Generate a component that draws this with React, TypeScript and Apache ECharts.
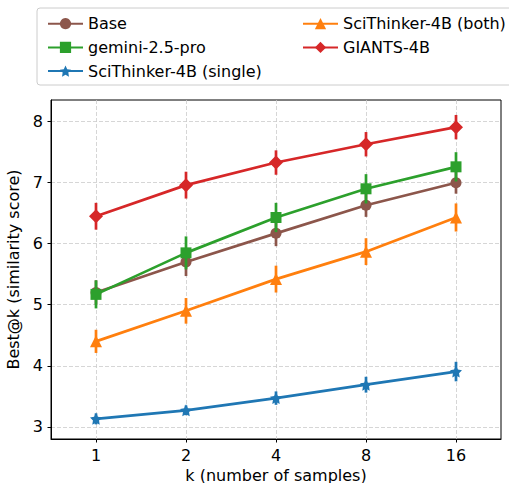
import React, { useEffect, useRef } from "react";
import * as echarts from "echarts";

const kLabels = ["1", "2", "4", "8", "16"];
const yTicks = [3, 4, 5, 6, 7, 8];

const baseVals = [5.2, 5.7, 6.17, 6.63, 7.0];
const baseErr = [0.2, 0.23, 0.21, 0.19, 0.18];
const geminiVals = [5.17, 5.85, 6.43, 6.9, 7.26];
const geminiErr = [0.23, 0.27, 0.24, 0.24, 0.24];
const singleVals = [3.13, 3.27, 3.47, 3.69, 3.905];
const singleErr = [0.09, 0.08, 0.11, 0.13, 0.16];
const bothVals = [4.4, 4.9, 5.42, 5.87, 6.43];
const bothErr = [0.19, 0.21, 0.22, 0.22, 0.23];
const giantsVals = [6.45, 6.96, 7.33, 7.63, 7.91];
const giantsErr = [0.22, 0.22, 0.2, 0.2, 0.2];

const STAR =
  "path://M0,-10 L2.9,-4 9.5,-3.1 4.8,1.5 5.9,8.1 0,5 -5.9,8.1 -4.8,1.5 -9.5,-3.1 -2.9,-4Z";

const models = [
  { name: "Base", vals: baseVals, err: baseErr, color: "#8c564b", symbol: "circle", size: 11 },
  { name: "gemini-2.5-pro", vals: geminiVals, err: geminiErr, color: "#2ca02c", symbol: "rect", size: 11 },
  { name: "SciThinker-4B (single)", vals: singleVals, err: singleErr, color: "#1f77b4", symbol: STAR, size: 12 },
  { name: "SciThinker-4B (both)", vals: bothVals, err: bothErr, color: "#ff7f0e", symbol: "triangle", size: 12 },
  { name: "GIANTS-4B", vals: giantsVals, err: giantsErr, color: "#d62728", symbol: "diamond", size: 14 },
];

const FONT = "DejaVu Sans";
const FS = 16;

export default function App() {
  const ref = useRef<HTMLDivElement>(null);
  useEffect(() => {
    document.body.style.margin = "0";
    document.documentElement.style.overflow = "hidden";
    const chart = echarts.init(ref.current!, null, { renderer: "svg" });
    const series: any[] = [];
    models.forEach((m, mi) => {
      series.push({
        type: "custom",
        name: m.name + "-err",
        data: m.vals.map((v, i) => [i, v - m.err[i], v + m.err[i]]),
        z: 2 + mi * 2,
        silent: true,
        renderItem: (params: any, api: any) => {
          const p1 = api.coord([api.value(0), api.value(1)]);
          const p2 = api.coord([api.value(0), api.value(2)]);
          return {
            type: "line",
            shape: { x1: p1[0], y1: p1[1], x2: p2[0], y2: p2[1] },
            style: { stroke: m.color, lineWidth: 2.7 },
          };
        },
      });
      series.push({
        type: "line",
        name: m.name,
        data: m.vals.map((v, i) => [i, v]),
        z: 3 + mi * 2,
        symbol: m.symbol,
        symbolSize: m.size,
        showAllSymbol: true,
        lineStyle: { color: m.color, width: 2.7 },
        itemStyle: { color: m.color, borderWidth: 0 },
        color: m.color,
      });
    });

    const legendCommon = {
      orient: "vertical",
      itemWidth: 35,
      itemHeight: 14,
      itemGap: 5.7,
      textStyle: {
        fontFamily: FONT,
        fontSize: FS,
        color: "#000",
        lineHeight: 18,
      },
      selectedMode: false,
    };

    chart.setOption({
      animation: false,
      backgroundColor: "#fff",
      textStyle: { fontFamily: FONT },
      grid: {
        left: 51,
        top: 100,
        width: 450,
        height: 339,
        outerBoundsMode: "none",
        containLabel: false,
        show: true,
        borderColor: "#000",
        borderWidth: 1,
        backgroundColor: "transparent",
      },
      legend: [
        { ...legendCommon, left: 42, top: 9.7, data: models.slice(0, 3).map((m) => m.name) },
        { ...legendCommon, left: 297, top: 9.7, data: models.slice(3).map((m) => m.name) },
      ],
      graphic: [
        {
          type: "rect",
          shape: { x: 37, y: 8, width: 490, height: 77, r: 3 },
          style: { fill: "rgba(255,255,255,0.8)", stroke: "#cccccc", lineWidth: 1 },
          z: -1,
        },
      ],
      xAxis: {
        type: "value",
        min: -0.5,
        max: 4.5,
        name: "k (number of samples)",
        nameLocation: "middle",
        nameGap: 24,
        nameTextStyle: { fontFamily: FONT, fontSize: FS, color: "#000", lineHeight: 16 },
        axisLine: { show: true, onZero: false, lineStyle: { color: "#000", width: 1 } },
        axisTick: { show: true, inside: false, length: 3.5, lineStyle: { color: "#000" }, customValues: [0, 1, 2, 3, 4] },
        axisLabel: {
          customValues: [0, 1, 2, 3, 4],
          formatter: (v: number) => kLabels[Math.round(v)] ?? "",
          fontFamily: FONT,
          fontSize: FS,
          color: "#000",
          margin: 8,
        },
        splitLine: { show: true, lineStyle: { color: "#cccccc", type: [4, 2], width: 0.8 } },
      },
      yAxis: {
        type: "value",
        min: 2.8,
        max: 8.355,
        name: "Best@k (similarity score)",
        nameLocation: "middle",
        nameGap: 16,
        nameRotate: 90,
        nameTextStyle: { fontFamily: FONT, fontSize: FS, color: "#000" },
        axisLine: { show: true, onZero: false, lineStyle: { color: "#000", width: 1 } },
        axisTick: { show: true, inside: false, length: 3.5, lineStyle: { color: "#000" }, customValues: yTicks },
        axisLabel: {
          customValues: yTicks,
          fontFamily: FONT,
          fontSize: FS,
          color: "#000",
          margin: 8,
        },
        splitLine: { show: true, lineStyle: { color: "#cccccc", type: [4, 2], width: 0.8 } },
      },
      series,
    });
    return () => chart.dispose();
  }, []);
  return (
    <div
      ref={ref}
      style={{ position: "fixed", left: 0, top: 0, width: 509, height: 483, overflow: "hidden" }}
    />
  );
}
